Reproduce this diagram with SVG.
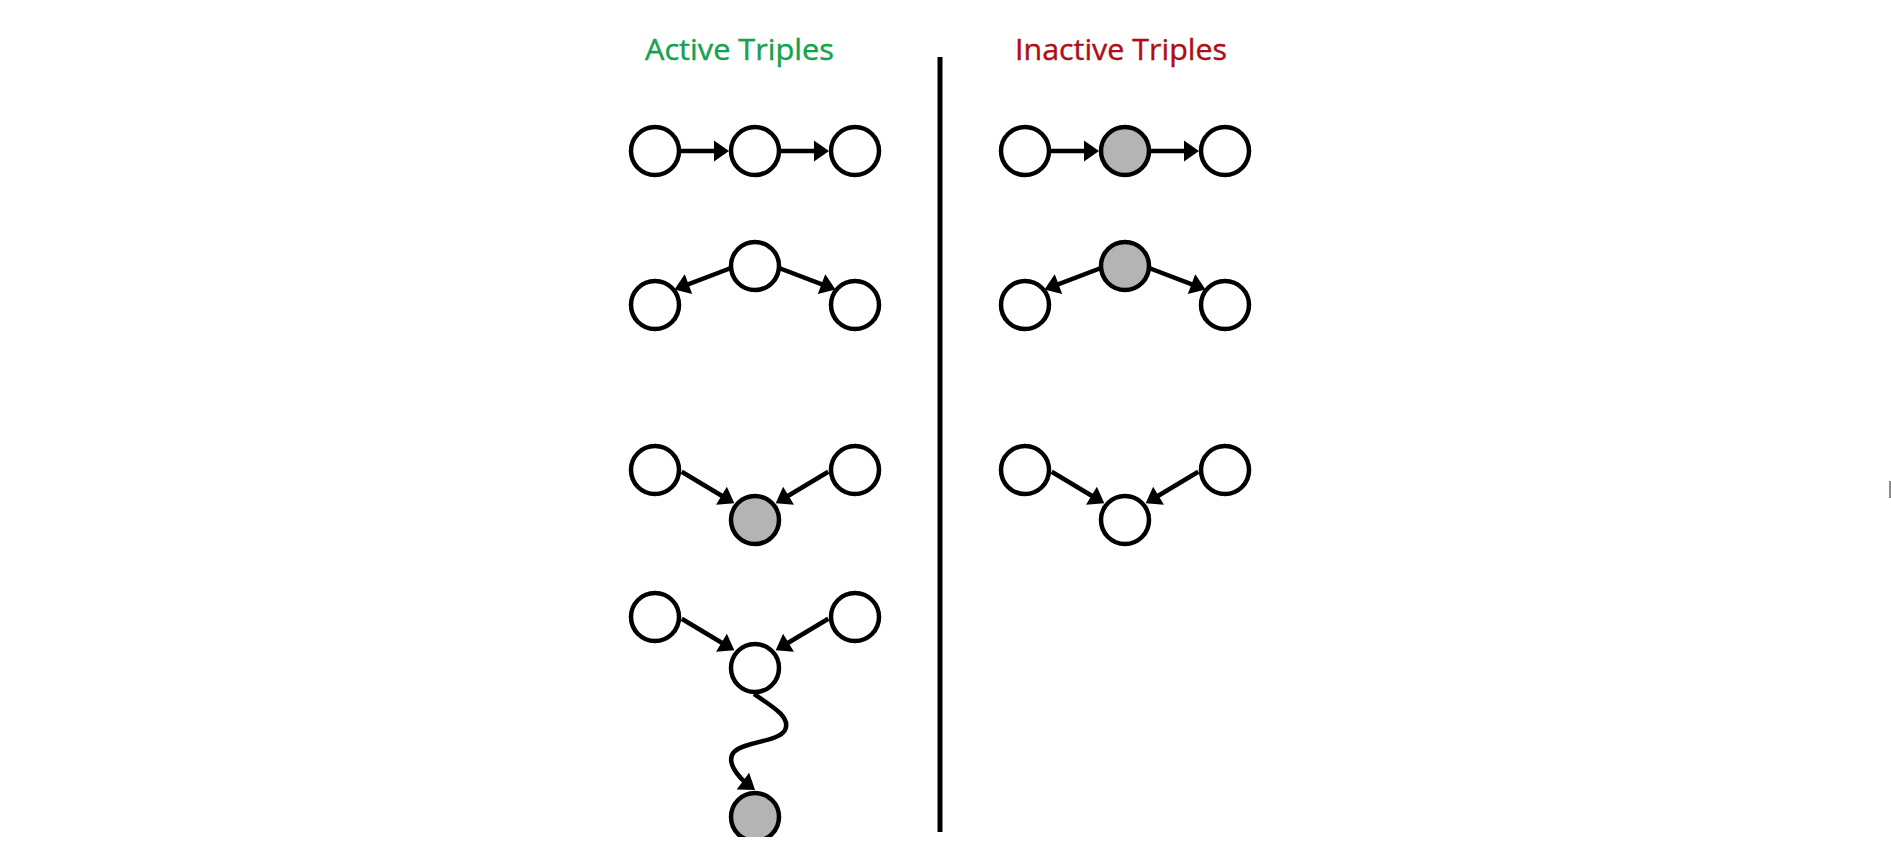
<svg xmlns="http://www.w3.org/2000/svg" width="1891" height="857" viewBox="0 0 1891 857">
  <style>
    .node { fill: #ffffff; stroke: #000000; stroke-width: 4.5; }
    .obs { fill: #b4b4b4; }
    .edge { fill: none; stroke: #000000; stroke-width: 4.5; marker-end: url(#arrow); }
    .title { font-family: "Open Sans", "Liberation Sans", sans-serif; font-size: 29px; }
  </style>
  <defs>
    <marker id="arrow" markerUnits="userSpaceOnUse" markerWidth="15" markerHeight="21" refX="11" refY="10.5" orient="auto" overflow="visible">
      <path d="M0,0 L15,10.5 L0,21 z" fill="#000000"/>
    </marker>
    <clipPath id="pageclip">
      <rect x="0" y="0" width="1891" height="837"/>
    </clipPath>
  </defs>
  <rect x="0" y="0" width="1891" height="857" fill="#ffffff"/>

  <g id="title-active">
    <text class="title" x="645" y="60" fill="#14a24c" stroke="#14a24c" stroke-width="0.4" textLength="189" lengthAdjust="spacingAndGlyphs">Active Triples</text>
  </g>
  <g id="title-inactive">
    <text class="title" x="1015" y="60" fill="#ae0e16" stroke="#ae0e16" stroke-width="0.4" textLength="212" lengthAdjust="spacingAndGlyphs">Inactive Triples</text>
  </g>

  <g id="divider">
    <rect x="937.5" y="57" width="5" height="775" fill="#000000"/>
  </g>

  <g id="connectors">
    <!-- Active row 1: chain -->
    <line class="edge" x1="681" y1="151" x2="725" y2="151"/>
    <line class="edge" x1="781" y1="151" x2="825" y2="151"/>
    <!-- Active row 2: common cause -->
    <line class="edge" x1="731" y1="268" x2="678.2" y2="288.1"/>
    <line class="edge" x1="779" y1="268" x2="831.8" y2="288.1"/>
    <!-- Active row 3: v-structure observed -->
    <line class="edge" x1="681.7" y1="471.7" x2="730.9" y2="501.3"/>
    <line class="edge" x1="828.3" y1="471.7" x2="779.1" y2="501.3"/>
    <!-- Active row 4: v-structure with observed descendant -->
    <line class="edge" x1="681.7" y1="618.7" x2="730.9" y2="648.3"/>
    <line class="edge" x1="828.3" y1="618.7" x2="779.1" y2="648.3"/>
    <path class="edge" d="M754,694 C775,708 791,718 785,730 C779,742 745,741 734,752 C726,761 736,776 751.8,787.6"/>

    <!-- Inactive row 1 -->
    <line class="edge" x1="1051" y1="151" x2="1095" y2="151"/>
    <line class="edge" x1="1151" y1="151" x2="1195" y2="151"/>
    <!-- Inactive row 2 -->
    <line class="edge" x1="1101" y1="268" x2="1048.2" y2="288.1"/>
    <line class="edge" x1="1149" y1="268" x2="1201.8" y2="288.1"/>
    <!-- Inactive row 3 -->
    <line class="edge" x1="1051.7" y1="471.7" x2="1100.9" y2="501.3"/>
    <line class="edge" x1="1198.3" y1="471.7" x2="1149.1" y2="501.3"/>
  </g>

  <!-- Active triples nodes -->
  <g id="a1-left"><circle class="node" cx="655" cy="151" r="24"/></g>
  <g id="a1-mid"><circle class="node" cx="755" cy="151" r="24"/></g>
  <g id="a1-right"><circle class="node" cx="855" cy="151" r="24"/></g>

  <g id="a2-top"><circle class="node" cx="755" cy="266" r="24"/></g>
  <g id="a2-left"><circle class="node" cx="655" cy="305" r="24"/></g>
  <g id="a2-right"><circle class="node" cx="855" cy="305" r="24"/></g>

  <g id="a3-left"><circle class="node" cx="655" cy="470" r="24"/></g>
  <g id="a3-right"><circle class="node" cx="855" cy="470" r="24"/></g>
  <g id="a3-bottom"><circle class="node obs" cx="755" cy="520" r="24"/></g>

  <g id="a4-left"><circle class="node" cx="655" cy="617" r="24"/></g>
  <g id="a4-right"><circle class="node" cx="855" cy="617" r="24"/></g>
  <g id="a4-mid"><circle class="node" cx="755" cy="668" r="24"/></g>
  <g id="a4-desc" clip-path="url(#pageclip)"><circle class="node obs" cx="755" cy="817" r="24"/></g>

  <!-- Inactive triples nodes -->
  <g id="i1-left"><circle class="node" cx="1025" cy="151" r="24"/></g>
  <g id="i1-mid"><circle class="node obs" cx="1125" cy="151" r="24"/></g>
  <g id="i1-right"><circle class="node" cx="1225" cy="151" r="24"/></g>

  <g id="i2-top"><circle class="node obs" cx="1125" cy="266" r="24"/></g>
  <g id="i2-left"><circle class="node" cx="1025" cy="305" r="24"/></g>
  <g id="i2-right"><circle class="node" cx="1225" cy="305" r="24"/></g>

  <g id="i3-left"><circle class="node" cx="1025" cy="470" r="24"/></g>
  <g id="i3-right"><circle class="node" cx="1225" cy="470" r="24"/></g>
  <g id="i3-bottom"><circle class="node" cx="1125" cy="520" r="24"/></g>

  <g id="edge-mark">
    <rect x="1889" y="481" width="2" height="17" fill="#8a8a8a"/>
  </g>
</svg>
